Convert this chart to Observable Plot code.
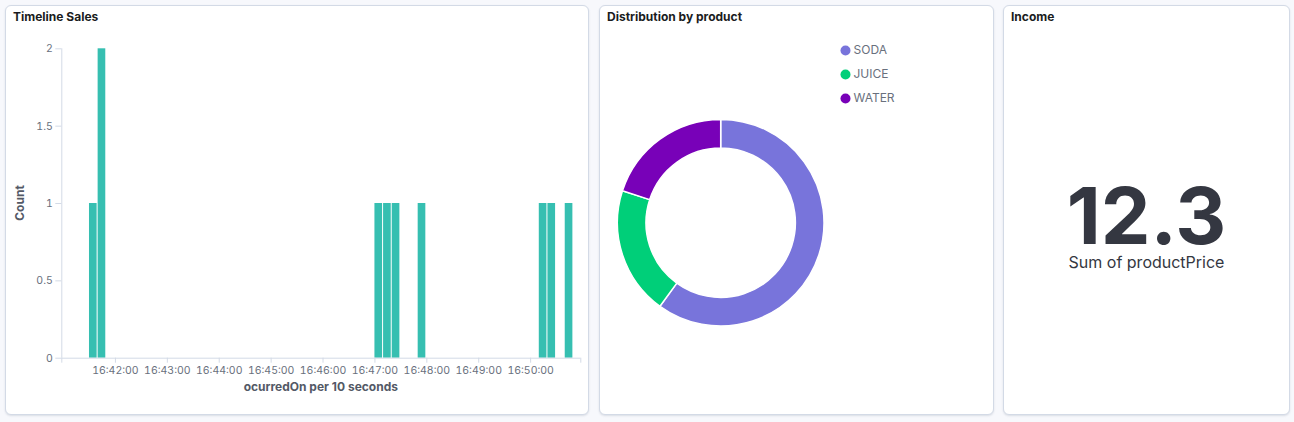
<!DOCTYPE html>
<html>
<head>
<meta charset="utf-8">
<script src="https://cdn.jsdelivr.net/npm/d3@7"></script>
<script src="https://cdn.jsdelivr.net/npm/@observablehq/plot@0.6"></script>
<style>
  html, body { margin: 0; padding: 0; background: #f7f8fc; }
  body { width: 1294px; height: 422px; position: relative; overflow: hidden; font-family: Inter, "Noto Sans", sans-serif; }
  .panel { position: absolute; top: 5px; height: 410px; box-sizing: border-box; background: #fff; border: 1px solid #d3dae6; border-radius: 6px; box-shadow: 0 1px 2px rgba(152,162,179,0.3); }
  .title { position: absolute; top: 8px; font-size: 12px; line-height: 18px; font-weight: 700; color: #1a1c21; white-space: nowrap; }
  .abs { position: absolute; }
  .axislabel { position: absolute; font-size: 12px; line-height: 16px; font-weight: 700; color: #535966; white-space: nowrap; text-align: center; }
  .metric { position: absolute; left: 1003px; width: 287px; text-align: center; color: #343741; white-space: nowrap; }
</style>
</head>
<body>
<div class="panel" style="left:5px;width:584px;"></div>
<div class="panel" style="left:599px;width:395px;"></div>
<div class="panel" style="left:1003px;width:287px;"></div>
<div class="title" style="left:13px;">Timeline Sales</div>
<div class="title" style="left:607px;">Distribution by product</div>
<div class="title" style="left:1011px;">Income</div>
<div id="bar" class="abs" style="left:0;top:0;"></div>
<div class="axislabel" style="left:-30px;top:194.5px;width:100px;height:16px;transform:rotate(-90deg);">Count</div>
<div class="axislabel" style="left:220.8px;top:378.6px;width:200px;">ocurredOn per 10 seconds</div>
<div id="donut" class="abs" style="left:599px;top:5px;"></div>
<div id="metricValue" class="metric" style="top:183px;font-size:79px;line-height:64px;font-weight:700;"></div>
<div id="metricLabel" class="metric" style="top:254px;font-size:16px;line-height:16px;"></div>
<script>
// ---- data ----
const binStart = ["16:41:30", "16:41:40", "16:47:00", "16:47:10", "16:47:20", "16:47:50", "16:50:10", "16:50:20", "16:50:40"];
const binCount = [1, 2, 1, 1, 1, 1, 1, 1, 1];
const binSeconds = 10;
const xDomainTimes = ["16:40:58", "16:50:58"];
const xTickTimes = ["16:42:00", "16:43:00", "16:44:00", "16:45:00", "16:46:00", "16:47:00", "16:48:00", "16:49:00", "16:50:00"];
const yTicks = [0, 0.5, 1, 1.5, 2];

const products = ["SODA", "JUICE", "WATER"];
const productCounts = [6, 2, 2];
const productColors = ["#7874db", "#00cf79", "#7801b8"];

const incomeValue = 12.3;
const incomeLabel = "Sum of productPrice";

// ---- styles ----
const barColor = "#36bfb1";
const axisColor = "#d3dae6";
const tickLabelColor = "#69707d";

// ---- bar chart ----
const day = "2024-01-01 ";
const parseT = d3.utcParse("%Y-%m-%d %H:%M:%S");
const bins = binStart.map((t, i) => {
  const s = parseT(day + t);
  return {start: s, end: new Date(+s + binSeconds * 1000), count: binCount[i]};
});
const xDomain = xDomainTimes.map(t => parseT(day + t));
const xTicks = xTickTimes.map(t => parseT(day + t));
const fmt = d3.utcFormat("%H:%M:%S");

const bar = Plot.plot({
  width: 590,
  height: 415,
  marginLeft: 61.3,
  marginRight: 9.7,
  marginTop: 48.3,
  marginBottom: 57.3,
  style: {background: "transparent", fontFamily: "Inter, sans-serif", fontSize: "10.5px", color: tickLabelColor, overflow: "visible"},
  x: {type: "utc", domain: xDomain},
  y: {domain: [0, 2]},
  marks: [
    Plot.rectY(bins, {x1: "start", x2: "end", y1: 0, y2: "count", fill: barColor, insetRight: 1}),
    Plot.ruleX([xDomain[0]], {stroke: axisColor}),
    Plot.ruleY([0], {stroke: axisColor}),
    Plot.axisY({ticks: yTicks, tickSize: 6, tickPadding: 3, stroke: axisColor, label: null, tickFormat: d => String(d)}),
    Plot.axisX({ticks: xTicks, tickSize: 5, tickPadding: 3, stroke: axisColor, label: null, tickFormat: fmt}),
    Plot.axisX({ticks: xDomain, tickSize: 5, stroke: axisColor, label: null, tickFormat: () => ""})
  ]
});
document.getElementById("bar").appendChild(bar);

// ---- donut ----
const prodData = products.map((p, i) => ({product: p, count: productCounts[i]}));
const donutCx = 121.7, donutCy = 217.7, donutOuter = 103.3, donutInner = 74.7;

const donutMark = (...args) => {
  const scales = args.find(a => a && !Array.isArray(a) && typeof a.color === "function");
  const color = scales ? scales.color : (p => productColors[products.indexOf(p)]);
  const pie = d3.pie().sort(null).value(d => d.count)(prodData);
  const arc = d3.arc().innerRadius(donutInner).outerRadius(donutOuter);
  const g = d3.create("svg:g").attr("transform", `translate(${donutCx},${donutCy})`);
  g.selectAll("path").data(pie).join("path")
    .attr("d", arc)
    .attr("fill", d => color(d.data.product))
    .attr("stroke", "#fff")
    .attr("stroke-width", 1.5);
  return g.node();
};

const donut = Plot.plot({
  width: 395,
  height: 410,
  margin: 0,
  style: {background: "transparent", fontFamily: "Inter, sans-serif", fontSize: "12px", color: tickLabelColor, overflow: "visible"},
  color: {type: "ordinal", domain: products, range: productColors},
  y: {type: "point", domain: products, range: [45, 93], padding: 0, axis: null},
  marks: [
    donutMark,
    Plot.dot(products, {y: d => d, fill: d => d, r: 5, frameAnchor: "left", dx: 246}),
    Plot.text(products, {y: d => d, text: d => d, frameAnchor: "left", dx: 254, textAnchor: "start", fill: tickLabelColor, fontSize: 12})
  ]
});
document.getElementById("donut").appendChild(donut);

// ---- metric ----
document.getElementById("metricValue").textContent = String(incomeValue);
document.getElementById("metricLabel").textContent = incomeLabel;
</script>
</body>
</html>
